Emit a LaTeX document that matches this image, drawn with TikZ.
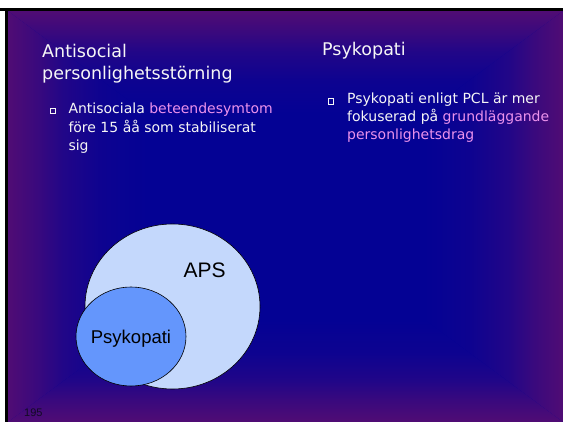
\documentclass[tikz,border=0pt]{standalone}
\usepackage{fontspec}
\setmainfont{DejaVu Sans}
\newfontfamily\arialfont{Liberation Sans}
\usetikzlibrary{shapes.geometric}

\definecolor{slideedge}{RGB}{80,12,116}
\definecolor{slidecore}{RGB}{4,2,148}
\colorlet{slidemidA}{slideedge!72!slidecore}
\colorlet{slidemidB}{slideedge!38!slidecore}
\colorlet{slidemidC}{slideedge!12!slidecore}
\definecolor{bodytext}{RGB}{246,246,246}
\definecolor{accent}{RGB}{236,146,236}
\definecolor{apsfill}{RGB}{196,216,252}
\definecolor{pcfill}{RGB}{100,150,252}
\definecolor{pagenum}{RGB}{18,10,36}

% edge-to-centre fade used on each quarter of the slide background
\pgfdeclareverticalshading{edgefade}{100bp}{color(0bp)=(slidecore); color(25bp)=(slidecore); color(50bp)=(slidecore); color(58bp)=(slidemidC); color(65bp)=(slidemidB); color(70bp)=(slidemidA); color(75bp)=(slideedge); color(100bp)=(slideedge)}

\tikzset{
  heading/.style={font=\fontsize{17.5}{21}\selectfont, text=bodytext, inner sep=0pt, anchor=base west},
  bodyline/.style={font=\fontsize{14}{18}\selectfont, text=bodytext, inner sep=0pt, anchor=base west},
  boxbullet/.style={draw=bodytext, line width=0.9pt, minimum size=5.4pt, inner sep=0pt, anchor=south west},
  venn/.style={ellipse, draw=black, line width=0.6pt, inner sep=0pt},
  vennlabel/.style={text=black, inner sep=0pt, anchor=base},
}

\begin{document}
\begin{tikzpicture}[x=1pt,y=-1pt]
\useasboundingbox (0,0) rectangle (563,422);
\fill[white] (0,0) rectangle (563,422);

% slide background: rectangular gradient built from four triangles
\coordinate (TL) at (8,11);
\coordinate (TR) at (563,11);
\coordinate (BR) at (563,422);
\coordinate (BL) at (8,422);
\coordinate (C) at (285.5,216.5);
\fill[slidecore] (TL) rectangle (BR);
\shade[shading=edgefade, shading angle=0]   (TL) -- (TR) -- (C) -- cycle;
\shade[shading=edgefade, shading angle=180] (BL) -- (BR) -- (C) -- cycle;
\shade[shading=edgefade, shading angle=90]  (TL) -- (BL) -- (C) -- cycle;
\shade[shading=edgefade, shading angle=-90] (TR) -- (BR) -- (C) -- cycle;

% frame lines
\fill[black] (0,8) rectangle (563,11);
\fill[black] (5,8) rectangle (8,422);

% left column
\node[heading] (tA1) at (42,58) {Antisocial};
\node[heading] (tA2) at (42,80) {personlighetsstörning};
\node[boxbullet] (bA) at (49.5,114) {};
\node[bodyline] (lA1) at (68.3,114) {Antisociala \textcolor{accent}{beteendesymtom}};
\node[bodyline] (lA2) at (68.3,132.5) {före 15 åå som stabiliserat};
\node[bodyline] (lA3) at (68.3,151) {sig};

% right column
\node[heading] (tB) at (322,56) {Psykopati};
\node[boxbullet] (bB) at (328,104.5) {};
\node[bodyline] (lB1) at (347,104) {Psykopati enligt PCL är mer};
\node[bodyline] (lB2) at (347,122) {fokuserad på \textcolor{accent}{grundläggande}};
\node[bodyline] (lB3) at (347,140) {\textcolor{accent}{personlighetsdrag}};

% Venn diagram
\node[venn, fill=apsfill, minimum width=175pt, minimum height=165pt] (aps) at (172.5,306.5) {};
\node[venn, fill=pcfill, minimum width=110pt, minimum height=99pt] (pcp) at (131,336.5) {};
\node[vennlabel, font=\arialfont\fontsize{21}{24}\selectfont] (apsL) at (204.7,278) {APS};
\node[vennlabel, font=\arialfont\fontsize{18.5}{22}\selectfont] (pcpL) at (131,344) {Psykopati};

% page number
\node[inner sep=0pt, anchor=base west, text=pagenum, font=\arialfont\fontsize{11}{13}\selectfont] (pg) at (24,417) {195};
\end{tikzpicture}
\end{document}
